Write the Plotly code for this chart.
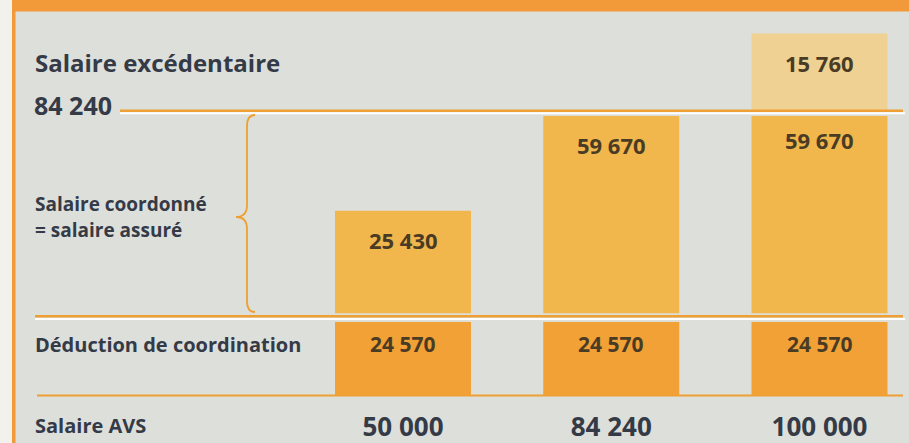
import math
import plotly.graph_objects as go

# ---------------- data ----------------
avs_salary = [50000, 84240, 100000]          # Salaire AVS (column labels)
deduction = [24570, 24570, 24570]            # Déduction de coordination
coordinated = [25430, 59670, 59670]          # Salaire coordonné = salaire assuré
excess = [0, 0, 15760]                       # Salaire excédentaire
threshold = 84240                            # upper limit line

row_labels = {
    "excess": "Salaire excédentaire",
    "coord1": "Salaire coordonné",
    "coord2": "= salaire assuré",
    "ded": "Déduction de coordination",
    "avs": "Salaire AVS",
}


def fmt(v):
    return f"{v:,}".replace(",", " ")


categories = [fmt(v) for v in avs_salary]

# ---------------- styles ----------------
W, H = 909, 443
FONT = "Open Sans"
TXT = "#353a47"
NUM = "#4a3b24"
BG = "#dddfdb"
PAGE = "#f3f1ec"
ORANGE = "#f29a3a"
LINE = "#efa034"
C_DED = "#f1a136"
C_COORD = "#f1b74d"
C_EXC = "#eed193"


def fx(px):
    return px / W


def fy(py):
    return 1 - py / H


fig = go.Figure()

bar_w = 0.653
fig.add_trace(go.Bar(x=categories, y=deduction, xaxis="x", yaxis="y",
                     marker=dict(color=C_DED, line=dict(width=0)), width=bar_w,
                     hoverinfo="skip"))
fig.add_trace(go.Bar(x=categories, y=coordinated, xaxis="x", yaxis="y2",
                     marker=dict(color=C_COORD, line=dict(width=0)), width=bar_w,
                     hoverinfo="skip"))
fig.add_trace(go.Bar(x=categories, y=excess, xaxis="x", yaxis="y3",
                     marker=dict(color=C_EXC, line=dict(width=0)), width=bar_w,
                     hoverinfo="skip"))

annotations = []

# values inside the bars
for c, v in zip(categories, deduction):
    annotations.append(dict(x=c, y=v, xref="x", yref="y", text=fmt(v), showarrow=False,
                            yanchor="middle", yshift=-22,
                            font=dict(family=FONT, size=21, color=NUM, weight=700)))
coord_drop = [-29, -29, -24]
for c, v, d in zip(categories, coordinated, coord_drop):
    annotations.append(dict(x=c, y=math.log10(v), xref="x", yref="y2", text=fmt(v),
                            showarrow=False, yanchor="middle", yshift=d,
                            font=dict(family=FONT, size=22, color=NUM, weight=700)))
for c, v in zip(categories, excess):
    if v > 0:
        annotations.append(dict(x=c, y=v, xref="x", yref="y3", text=fmt(v), showarrow=False,
                                yanchor="middle", yshift=-30,
                                font=dict(family=FONT, size=22, color=NUM, weight=700)))


def label(text, px, py, size):
    annotations.append(dict(x=fx(px), y=fy(py), xref="paper", yref="paper", text=text,
                            showarrow=False, xanchor="left", yanchor="middle",
                            font=dict(family=FONT, size=size, color=TXT, weight=700)))


label(row_labels["excess"], 33, 62, 24)
label(fmt(threshold), 32, 105, 25)
label(row_labels["coord1"], 33, 204, 19)
label(row_labels["coord2"], 33, 230, 19)
label(row_labels["ded"], 33, 344, 20)
label(row_labels["avs"], 33, 425, 20)

shapes = []


def rect(x0, y0, x1, y1, color, layer="below"):
    shapes.append(dict(type="rect", xref="paper", yref="paper", x0=fx(x0), x1=fx(x1),
                       y0=fy(y1), y1=fy(y0), fillcolor=color, line=dict(width=0),
                       layer=layer))


def hline(x0, x1, py, color, width, layer="above"):
    shapes.append(dict(type="line", xref="paper", yref="paper", x0=fx(x0), x1=fx(x1),
                       y0=fy(py), y1=fy(py), line=dict(color=color, width=width),
                       layer=layer))


rect(15, 11, W, H, BG)
rect(12, 0, W, 11.5, ORANGE)
rect(12, 0, 15.5, H, ORANGE)

hline(120, 903, 110.8, LINE, 2.5)
hline(120, 905, 113.3, "#ffffff", 2)
hline(35, 903, 316.3, LINE, 2.5)
hline(35, 905, 319.0, "#ffffff", 2)
hline(37, 903, 395.5, LINE, 2)

# brace
pts = [("M", 255, 115), ("Q", 247, 115, 247, 126), ("L", 247, 205),
       ("Q", 247, 217, 236, 217), ("Q", 247, 217, 247, 229), ("L", 247, 301),
       ("Q", 247, 312, 255, 312)]
path = ""
for p in pts:
    cmd = p[0]
    coords = p[1:]
    s = []
    for i in range(0, len(coords), 2):
        s.append(f"{fx(coords[i]):.5f},{fy(coords[i + 1]):.5f}")
    path += cmd + " " + " ".join(s) + " "
shapes.append(dict(type="path", xref="paper", yref="paper", path=path.strip(),
                   line=dict(color=LINE, width=1.8), layer="above"))

step = 208.25
c0 = 403
x_range = [(0 - c0) / step, (W - c0) / step]

fig.update_layout(
    width=W, height=H,
    margin=dict(l=0, r=0, t=0, b=0),
    paper_bgcolor=PAGE, plot_bgcolor="rgba(0,0,0,0)",
    showlegend=False,
    barmode="overlay",
    xaxis=dict(domain=[0, 1], range=x_range, anchor="y", showgrid=False, zeroline=False,
               showline=False, ticks="", ticklabelstandoff=13,
               tickfont=dict(family=FONT, size=26, color=TXT, weight=700),
               fixedrange=True),
    yaxis=dict(domain=[fy(396), fy(321.7)], range=[0, max(deduction)], visible=False,
               anchor="x", fixedrange=True),
    yaxis2=dict(domain=[fy(313.3), fy(116)], type="log",
                range=[math.log10(10100), math.log10(max(coordinated))], visible=False,
                anchor="x", fixedrange=True),
    yaxis3=dict(domain=[fy(110.8), fy(33.3)], range=[0, max(excess)], visible=False,
                anchor="x", fixedrange=True),
    annotations=annotations,
    shapes=shapes,
)

fig.write_html(
    "out.html",
    config={"displayModeBar": False},
    post_script="document.body.style.margin='0';document.body.style.overflow='hidden';",
)
